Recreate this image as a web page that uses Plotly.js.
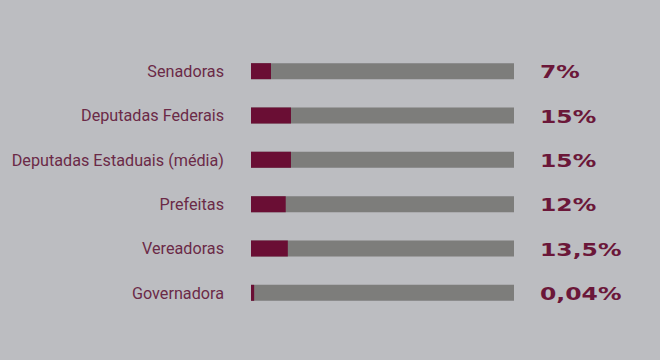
<!DOCTYPE html>
<html>
<head>
<meta charset="utf-8">
<script src="https://cdn.plot.ly/plotly-3.0.1.min.js"></script>
<style>
  html, body { margin: 0; padding: 0; background: #bcbdc1; }
  #chart { width: 660px; height: 360px; }
</style>
</head>
<body>
<div id="chart"></div>
<script>
// Categories (top to bottom)
const categories = [
  "Senadoras",
  "Deputadas Federais",
  "Deputadas Estaduais (média)",
  "Prefeitas",
  "Vereadoras",
  "Governadora"
];
// Bar lengths as drawn in the picture (% of full track)
const barShares = [7.6, 15.2, 15.2, 13.2, 14.0, 1.2];
// Full track (100%)
const trackTotals = [100, 100, 100, 100, 100, 100];
// Printed value labels
const valueLabels = ["7%", "15%", "15%", "12%", "13,5%", "0,04%"];

const labelColor = "#6b2a47";
const maroon = "#6a0e34";

const data = [
  {
    type: "bar", orientation: "h",
    y: categories, x: trackTotals,
    marker: { color: "#7d7d7b" },
    width: 0.36, hoverinfo: "skip"
  },
  {
    type: "bar", orientation: "h",
    y: categories, x: barShares,
    marker: { color: maroon },
    width: 0.36, hoverinfo: "skip"
  }
];

const annotations = categories.map((c, i) => ({
  x: trackTotals[i], y: c, xref: "x", yref: "y",
  text: valueLabels[i], showarrow: false, align: "left",
  xanchor: "left", yanchor: "middle", xshift: 24, yshift: -1,
  font: { family: "DejaVu Sans", size: 17, color: "#6b1739", weight: 700 }
}));

const layout = {
  width: 660, height: 360,
  paper_bgcolor: "#bcbdc1", plot_bgcolor: "#bcbdc1",
  margin: { l: 251, r: 146, t: 49, b: 45 },
  barmode: "overlay",
  showlegend: false,
  xaxis: { range: [0, 100], visible: false, fixedrange: true },
  yaxis: {
    autorange: "reversed", showgrid: false, zeroline: false, showline: false,
    ticks: "", ticklabelstandoff: 26,
    tickfont: { family: "Roboto", size: 16.2, color: labelColor }
  },
  annotations: annotations
};

Plotly.newPlot("chart", data, layout, { displayModeBar: false, staticPlot: true }).then(() => {
  // widen the value labels to mimic the extended display face
  document.querySelectorAll("#chart .annotation-text").forEach(el => {
    const w = el.getComputedTextLength();
    el.setAttribute("lengthAdjust", "spacingAndGlyphs");
    el.setAttribute("textLength", (w * 1.38).toFixed(1));
  });
});
</script>
</body>
</html>
